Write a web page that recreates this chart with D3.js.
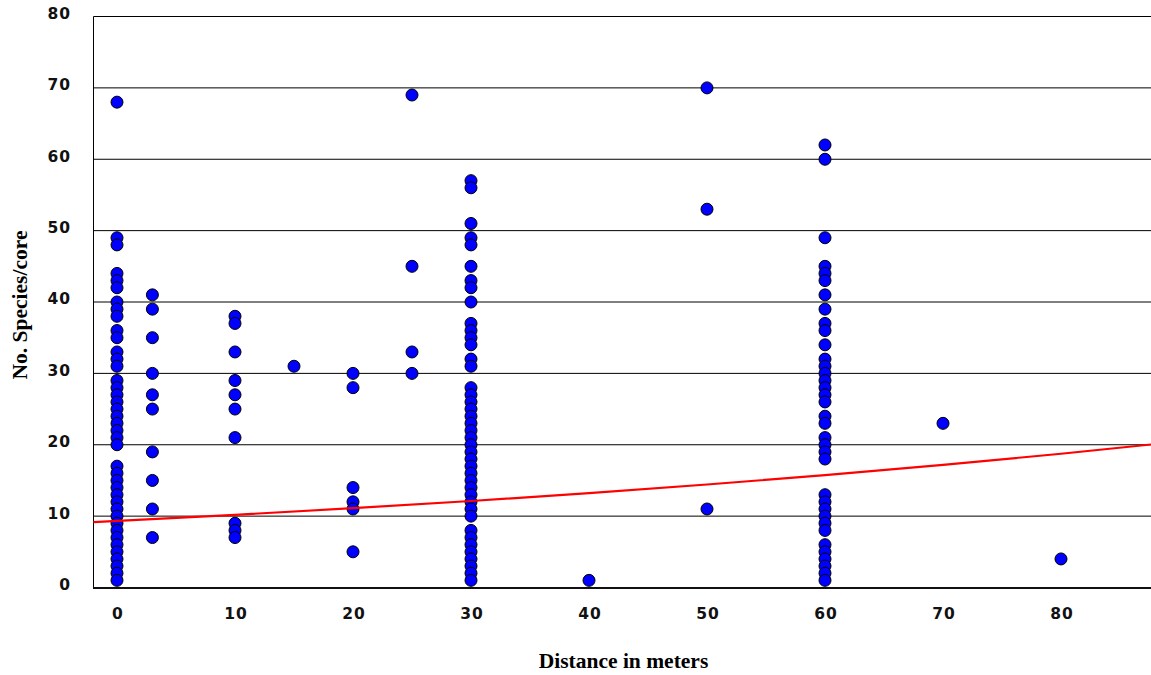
<!DOCTYPE html>
<html>
<head>
<meta charset="utf-8">
<script src="https://cdn.jsdelivr.net/npm/d3@7"></script>
<style>
  html, body { margin: 0; padding: 0; background: #fff; }
  svg { display: block; }
</style>
</head>
<body>
<svg id="chart" width="1151" height="675"></svg>
<script>
// ---- data ----
const dist0  = [68,49,48,44,43,42,40,39,38,36,35,33,32,31,29,28,27,26,25,24,23,22,21,20,17,16,15,14,13,12,11,10,9,8,7,6,5,4,3,2,1];
const dist3  = [41,39,35,30,27,25,19,15,11,7];
const dist10 = [38,37,33,29,27,25,21,9,8,7];
const dist15 = [31];
const dist20 = [30,28,14,12,11,5];
const dist25 = [69,45,33,30];
const dist30 = [57,56,51,49,48,45,43,42,40,37,36,35,34,32,31,28,27,26,25,24,23,22,21,20,19,18,17,16,15,14,13,12,11,10,8,7,6,5,4,3,2,1];
const dist40 = [1];
const dist50 = [70,53,11];
const dist60 = [62,60,49,45,44,43,41,39,37,36,34,32,31,30,29,28,27,26,24,23,21,20,19,18,13,12,11,10,9,8,6,5,4,3,2,1];
const dist70 = [23];
const dist80 = [4];
const distances = [0,3,10,15,20,25,30,40,50,60,70,80];
const speciesByDistance = [dist0,dist3,dist10,dist15,dist20,dist25,dist30,dist40,dist50,dist60,dist70,dist80];

// trend curve
const trendX = [-2, 10, 20, 30, 40, 50, 60, 70, 80, 87.7];
const trendY = [9.17, 10.18, 11.11, 12.12, 13.22, 14.43, 15.74, 17.18, 18.74, 20.05];

const xTicks = [0,10,20,30,40,50,60,70,80];
const yTicks = [0,10,20,30,40,50,60,70,80];
const xTitle = "Distance in meters";
const yTitle = "No. Species/core";

// ---- build ----
const points = [];
distances.forEach((d, i) => speciesByDistance[i].forEach(v => points.push({x: d, y: v})));

const svg = d3.select("#chart");
const W = 1151, H = 675;
const x = d3.scaleLinear().domain([0, 80]).range([117, 1061]);
const y = d3.scaleLinear().domain([0, 80]).range([587.5, 16.5]);
const left = 93.5, right = W;

// gridlines
svg.append("g").selectAll("line").data(yTicks.filter(t => t > 0)).join("line")
  .attr("x1", left).attr("x2", right)
  .attr("y1", d => y(d)).attr("y2", d => y(d))
  .attr("stroke", "#000").attr("stroke-width", 1);

// left axis line
svg.append("line").attr("x1", left).attr("x2", left).attr("y1", y(80)).attr("y2", y(0) + 1)
  .attr("stroke", "#000").attr("stroke-width", 1);

// bottom axis line
svg.append("line").attr("x1", left - 0.5).attr("x2", right).attr("y1", y(0) + 0.5).attr("y2", y(0) + 0.5)
  .attr("stroke", "#111").attr("stroke-width", 2.2);

// axis tick labels
const tickFont = "'DejaVu Sans', Verdana, sans-serif";
const yAxis = d3.axisLeft(y).tickValues(yTicks).tickSize(0).tickPadding(0);
const gy = svg.append("g").attr("transform", "translate(71,0)").call(yAxis);
gy.select(".domain").remove();
gy.selectAll("text").attr("font-family", tickFont).attr("font-weight", "bold")
  .attr("font-size", 15.5).attr("fill", "#111").attr("letter-spacing", "1px")
  .attr("dy", "0.12em");

const xAxis = d3.axisBottom(x).tickValues(xTicks).tickSize(0).tickPadding(0);
const gx = svg.append("g").attr("transform", "translate(0,608)").call(xAxis);
gx.select(".domain").remove();
gx.selectAll("text").attr("font-family", tickFont).attr("font-weight", "bold")
  .attr("font-size", 15.5).attr("fill", "#111").attr("letter-spacing", "1px")
  .attr("dx", "0.5px");

// points
svg.append("g").selectAll("circle").data(points).join("circle")
  .attr("cx", d => x(d.x)).attr("cy", d => y(d.y)).attr("r", 6)
  .attr("fill", "#0000ff").attr("stroke", "#000").attr("stroke-width", 1);

// trend line on top
const line = d3.line().x(d => x(d[0])).y(d => y(d[1])).curve(d3.curveMonotoneX);
svg.append("path").datum(trendX.map((t, i) => [t, trendY[i]]))
  .attr("d", line).attr("fill", "none").attr("stroke", "#ff0000").attr("stroke-width", 2.2);

// titles
svg.append("text").attr("x", 623.5).attr("y", 668).attr("text-anchor", "middle")
  .attr("font-family", "'Liberation Serif', 'Times New Roman', serif").attr("font-weight", "bold")
  .attr("font-size", 21.5).attr("fill", "#000").text(xTitle);
svg.append("text").attr("transform", "translate(27,305) rotate(-90)").attr("text-anchor", "middle")
  .attr("font-family", "'Liberation Serif', 'Times New Roman', serif").attr("font-weight", "bold")
  .attr("font-size", 21.5).attr("fill", "#000").text(yTitle);
</script>
</body>
</html>
